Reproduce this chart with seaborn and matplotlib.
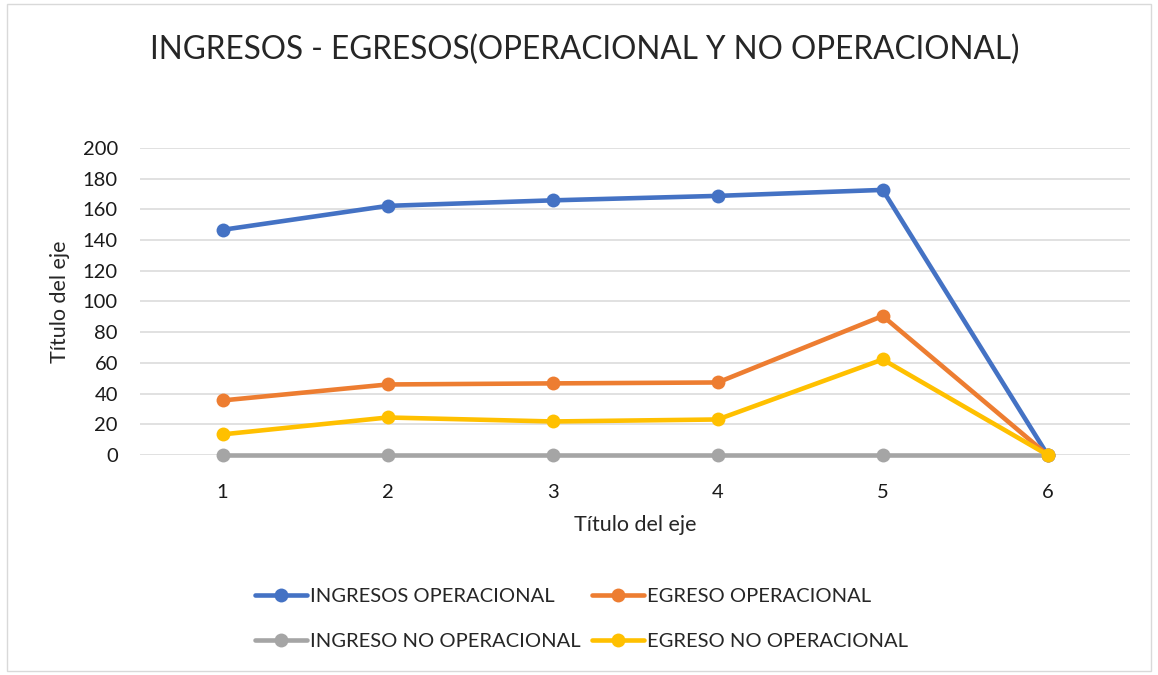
import pandas as pd
import matplotlib.pyplot as plt
import seaborn as sns
from matplotlib.patches import Rectangle

# Datos
periodos = [1, 2, 3, 4, 5, 6]
ingresos_operacional = [146.6, 162.2, 165.8, 168.7, 172.6, 0]
egreso_operacional = [35.5, 45.9, 46.6, 47.2, 90.5, 0]
ingreso_no_operacional = [0, 0, 0, 0, 0, 0]
egreso_no_operacional = [13.4, 24.4, 21.8, 23.1, 62.2, 0]

series = {
    'INGRESOS OPERACIONAL': ingresos_operacional,
    'EGRESO OPERACIONAL': egreso_operacional,
    'INGRESO NO OPERACIONAL': ingreso_no_operacional,
    'EGRESO NO OPERACIONAL': egreso_no_operacional,
}
colores = {
    'INGRESOS OPERACIONAL': '#4472C4',
    'EGRESO OPERACIONAL': '#ED7D31',
    'INGRESO NO OPERACIONAL': '#A5A5A5',
    'EGRESO NO OPERACIONAL': '#FFC000',
}

df = pd.DataFrame([
    {'periodo': p, 'valor': v, 'serie': nombre}
    for nombre, valores in series.items()
    for p, v in zip(periodos, valores)
])

sns.set_style('white')
plt.rcParams['font.family'] = ['Lato', 'DejaVu Sans']

fig = plt.figure(figsize=(11.58, 6.75), dpi=100)
ax = fig.add_axes([0.121, 0.326, 0.855, 0.455])

lineas = {}
for nombre in series:
    sns.lineplot(data=df[df['serie'] == nombre], x='periodo', y='valor',
                 color=colores[nombre], linewidth=3.3, marker='o',
                 markersize=10, markeredgewidth=0, ax=ax, label=nombre,
                 legend=False)
    lineas[nombre] = ax.lines[-1]

ax.set_xlim(0.5, 6.5)
ax.set_ylim(0, 200)
ax.set_yticks(range(0, 201, 20))
ax.set_xticks(periodos)
ax.yaxis.grid(True, color='#D9D9D9', linewidth=1.1)
ax.set_axisbelow(True)
for s in ax.spines.values():
    s.set_visible(False)
ax.tick_params(axis='both', length=0, labelsize=14.5, colors='#1a1a1a')
ax.tick_params(axis='y', pad=16)
ax.tick_params(axis='x', pad=21)

ax.set_xlabel('Título del eje', fontsize=15.5, labelpad=10)
ax.set_ylabel('Título del eje', fontsize=15.5, labelpad=9)
for l in ax.lines:
    l.set_clip_on(False)

fig.suptitle('INGRESOS - EGRESOS(OPERACIONAL Y NO OPERACIONAL)',
             fontsize=22.7, y=0.948, x=0.505)

orden = ['INGRESOS OPERACIONAL', 'INGRESO NO OPERACIONAL',
         'EGRESO OPERACIONAL', 'EGRESO NO OPERACIONAL']
fig.legend([lineas[n] for n in orden], orden, loc='center',
           bbox_to_anchor=(0.502, 0.083), ncol=2, frameon=False,
           fontsize=14.5, handlelength=2.6, handletextpad=0.15,
           columnspacing=0.55, labelspacing=1.35)

fig.patches.append(Rectangle((0.006, 0.006), 0.988, 0.988,
                             transform=fig.transFigure, fill=False,
                             edgecolor='#D9D9D9', linewidth=1))

fig.savefig('out.png', dpi=100)
